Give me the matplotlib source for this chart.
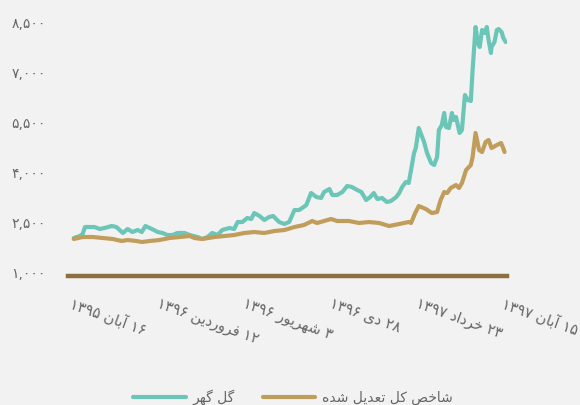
import matplotlib
matplotlib.use("Agg")
import matplotlib.pyplot as plt
from matplotlib.ticker import FuncFormatter

# days since 16 Aban 1395 and index values
gol_days = [0, 10, 15, 19, 27, 35, 44, 52, 64, 72, 83, 91, 99, 108, 115, 121, 132, 142, 150, 158,
            167, 175, 187, 196, 209, 217, 226, 234, 243, 251, 263, 271, 277, 285, 293, 300, 305, 314,
            322, 330, 337, 347, 356, 364, 373, 381, 386, 393, 401, 410, 418, 423, 432, 437, 445, 454,
            462, 470, 479, 486, 494, 501, 507, 513, 521, 529, 536, 545, 550, 555, 561, 566, 570, 575,
            578, 583, 592, 597, 604, 609, 614, 617, 622, 626, 629, 634, 639, 642, 646, 652, 656, 661,
            666, 671, 674, 679, 683, 686, 690, 695, 698, 701, 705, 706, 711, 715, 718, 723, 726, 730]
gol_vals = [2020, 2080, 2140, 2350, 2350, 2350, 2290, 2320, 2380, 2350, 2170, 2290, 2200, 2260, 2200,
            2380, 2290, 2200, 2170, 2110, 2110, 2170, 2170, 2110, 2050, 1990, 2050, 2170, 2110, 2260,
            2320, 2290, 2500, 2500, 2620, 2590, 2770, 2680, 2560, 2650, 2680, 2500, 2440, 2500, 2860,
            2860, 2920, 3010, 3370, 3250, 3220, 3400, 3490, 3310, 3310, 3400, 3580, 3550, 3460, 3400,
            3160, 3250, 3370, 3190, 3220, 3100, 3130, 3250, 3370, 3550, 3700, 3670, 4060, 4570, 4720,
            5320, 4900, 4570, 4270, 4210, 4450, 5260, 5410, 5770, 5350, 5320, 5770, 5560, 5650, 5170,
            5260, 6310, 6160, 6130, 7060, 8350, 7870, 7750, 8260, 8170, 8350, 7960, 7570, 7750, 7900,
            8260, 8290, 8200, 8020, 7900]

idx_days = [0, 15, 32, 49, 66, 81, 91, 106, 115, 128, 145, 162, 179, 196, 204, 217, 238, 255, 271,
            288, 305, 322, 339, 356, 373, 389, 403, 411, 423, 435, 445, 465, 482, 499, 516, 533, 550,
            566, 570, 577, 583, 595, 605, 614, 620, 626, 631, 637, 646, 651, 656, 663, 671, 674, 679,
            685, 690, 696, 701, 706, 715, 722, 725, 728]
idx_vals = [1990, 2050, 2050, 2020, 1990, 1930, 1960, 1930, 1900, 1930, 1960, 2020, 2050, 2080, 2020,
            1990, 2050, 2080, 2110, 2170, 2200, 2170, 2230, 2260, 2350, 2410, 2530, 2470, 2530, 2590,
            2530, 2530, 2470, 2500, 2470, 2380, 2440, 2500, 2470, 2770, 2980, 2890, 2770, 2800, 3160,
            3400, 3370, 3520, 3610, 3520, 3670, 4060, 4210, 4450, 5170, 4660, 4600, 4900, 4960, 4720,
            4810, 4870, 4750, 4600]

tick_days = [0, 146, 292, 438, 584, 730]
tick_labels = ["۱۶ آبان ۱۳۹۵", "۱۲ فروردین ۱۳۹۶", "۳ شهریور ۱۳۹۶",
               "۲۸ دی ۱۳۹۶", "۲۳ خرداد ۱۳۹۷", "۱۵ آبان ۱۳۹۷"]
y_ticks = [1000, 2500, 4000, 5500, 7000, 8500]
series_names = ["گل گهر", "شاخص کل تعدیل شده"]

# presentation forms: isolated, final, initial, medial
FORMS = {
    'ا': ('\uFE8D', '\uFE8E', None, None),
    'آ': ('\uFE81', '\uFE82', None, None),
    'ب': ('\uFE8F', '\uFE90', '\uFE91', '\uFE92'),
    'ت': ('\uFE95', '\uFE96', '\uFE97', '\uFE98'),
    'خ': ('\uFEA5', '\uFEA6', '\uFEA7', '\uFEA8'),
    'د': ('\uFEA9', '\uFEAA', None, None),
    'ر': ('\uFEAD', '\uFEAE', None, None),
    'ش': ('\uFEB5', '\uFEB6', '\uFEB7', '\uFEB8'),
    'ص': ('\uFEB9', '\uFEBA', '\uFEBB', '\uFEBC'),
    'ع': ('\uFEC9', '\uFECA', '\uFECB', '\uFECC'),
    'ف': ('\uFED1', '\uFED2', '\uFED3', '\uFED4'),
    'ک': ('\uFB8E', '\uFB8F', '\uFB90', '\uFB91'),
    'گ': ('\uFB92', '\uFB93', '\uFB94', '\uFB95'),
    'ل': ('\uFEDD', '\uFEDE', '\uFEDF', '\uFEE0'),
    'ن': ('\uFEE5', '\uFEE6', '\uFEE7', '\uFEE8'),
    'ه': ('\uFEE9', '\uFEEA', '\uFEEB', '\uFEEC'),
    'و': ('\uFEED', '\uFEEE', None, None),
    'ی': ('\uFBFC', '\uFBFD', '\uFBFE', '\uFBFF'),
}


def shape_word(w):
    out = []
    for i, c in enumerate(w):
        if c not in FORMS:
            out.append(c)
            continue
        prev = w[i - 1] if i > 0 else None
        nxt = w[i + 1] if i < len(w) - 1 else None
        jp = prev in FORMS and FORMS[prev][2] is not None
        jn = nxt in FORMS and FORMS[c][2] is not None
        f = FORMS[c]
        if jp and jn:
            out.append(f[3])
        elif jp:
            out.append(f[1])
        elif jn:
            out.append(f[2])
        else:
            out.append(f[0])
    return ''.join(out[::-1])


def rtl(s):
    # visual order for simple persian labels: words reversed, digit runs kept
    parts = []
    for tok in s.split(' '):
        if any(ch in FORMS for ch in tok):
            parts.append(shape_word(tok))
        else:
            parts.append(tok)
    return ' '.join(parts[::-1])


def fa_digits(s):
    return s.translate(str.maketrans("0123456789", "۰۱۲۳۴۵۶۷۸۹"))


plt.rcParams['font.family'] = ['DejaVu Sans']

bg = '#f2f2f2'
teal = '#6cc6b8'
tan = '#c19d5b'

fig = plt.figure(figsize=(5.8, 4.05), dpi=100, facecolor=bg)
ax = fig.add_axes([0.117, 0.3185, 0.757, 0.6354], facecolor=bg)

ax.plot(gol_days, gol_vals, color=teal, lw=3, solid_joinstyle='round', solid_capstyle='round',
        label=rtl(series_names[0]))
ax.plot(idx_days, idx_vals, color=tan, lw=3, solid_joinstyle='round', solid_capstyle='round',
        label=rtl(series_names[1]))

ax.set_xlim(-10, 732)
ax.set_ylim(880, 8600)

for s in ['top', 'right', 'left']:
    ax.spines[s].set_visible(False)
ax.spines['bottom'].set_color('#8b6f3e')
ax.spines['bottom'].set_linewidth(3.2)

ax.set_yticks(y_ticks)
ax.yaxis.set_major_formatter(FuncFormatter(lambda v, p: fa_digits(f"{int(v):,}")))
ax.tick_params(axis='y', length=0, pad=16, labelsize=10, labelcolor='#666666')

ax.set_xticks(tick_days)
ax.set_xticklabels([rtl(t) for t in tick_labels])
ax.tick_params(axis='x', length=0, pad=14, labelsize=10.5, labelcolor='#666666')
for lab in ax.get_xticklabels():
    lab.set_rotation(-20)
    lab.set_ha('left')
    lab.set_va('top')
    lab.set_rotation_mode('anchor')

leg = fig.legend(loc='center', bbox_to_anchor=(0.505, 0.02), ncol=2, frameon=False,
                 handlelength=3.8, columnspacing=2.0, handletextpad=0.5, fontsize=10)
for t in leg.get_texts():
    t.set_color('#666666')

fig.savefig("out.png", dpi=100, facecolor=bg)
